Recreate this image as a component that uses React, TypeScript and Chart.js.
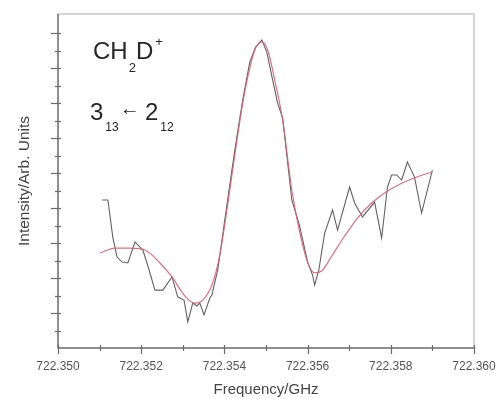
import React, { useEffect, useRef } from "react";
import { Chart, registerables } from "chart.js";

Chart.register(...registerables);

// Measured spectrum (frequency in GHz, intensity in arbitrary units)
const measuredFreqGHz = [
  722.35106, 722.3512, 722.35132, 722.35142, 722.35154, 722.35168, 722.35185, 722.35204,
  722.35219, 722.35233, 722.35252, 722.35274, 722.35288, 722.35303, 722.35312, 722.35324,
  722.35334, 722.35341, 722.35351, 722.35365, 722.3537, 722.35384, 722.35406, 722.35425,
  722.35444, 722.35461, 722.35475, 722.3549, 722.35502, 722.35516, 722.35528, 722.3554,
  722.3555, 722.35562, 722.35581, 722.356, 722.35612, 722.35617, 722.35627, 722.35641,
  722.3566, 722.35672, 722.35701, 722.35713, 722.35732, 722.35761, 722.35778, 722.35792,
  722.35802, 722.35814, 722.35826, 722.3584, 722.35857, 722.35874, 722.359,
];
const measuredIntensity = [
  8.46, 8.46, 6.29, 5.2, 4.91, 4.86, 6.06, 5.6,
  4.46, 3.31, 3.31, 4.06, 2.91, 2.74, 1.49, 2.57,
  2.4, 2.57, 1.89, 2.86, 3.03, 4.46, 8.17, 11.31,
  14.17, 16.34, 17.2, 17.6, 16.91, 15.31, 14.0, 13.14,
  11.03, 8.46, 6.97, 4.91, 4.17, 3.6, 4.46, 6.57,
  7.89, 6.74, 9.2, 8.29, 7.49, 8.34, 6.29, 9.2,
  9.89, 9.89, 9.6, 10.63, 9.77, 7.71, 10.17,
];

// Fitted line profile
const fitFreqGHz = [
  722.35101, 722.35137, 722.35173, 722.35209, 722.35245, 722.35274, 722.35305, 722.35329,
  722.35348, 722.3537, 722.35389, 722.35406, 722.35425, 722.35444, 722.35461, 722.35475,
  722.3549, 722.35504, 722.35521, 722.3554, 722.35562, 722.35581, 722.356, 722.35617,
  722.35634, 722.35658, 722.35689, 722.3572, 722.35754, 722.35792, 722.35833, 722.35869,
  722.359,
];
const fitIntensity = [
  5.43, 5.71, 5.71, 5.6, 4.86, 4.06, 2.97, 2.57,
  2.74, 3.6, 5.31, 7.89, 11.03, 14.0, 16.0, 17.14,
  17.49, 17.03, 15.31, 13.03, 9.03, 6.63, 4.91, 4.29,
  4.4, 5.26, 6.4, 7.43, 8.29, 8.97, 9.49, 9.83,
  10.06,
];

const xMin = 722.35;
const xMax = 722.36;
const xStep = 0.001;
const yMin = 0;
const yMax = 19.09;
const yStep = 1;

const xTitle = "Frequency/GHz";
const yTitle = "Intensity/Arb. Units";

const FONT = "'Liberation Sans', Arial, Helvetica, sans-serif";

function isEvenStep(v: number) {
  return Math.round((v - xMin) / xStep) % 2 === 0;
}

const framePlugin = {
  id: "framePlugin",
  afterDraw(chart: any) {
    const { ctx, chartArea } = chart;
    const { left, right, top, bottom } = chartArea;
    const xs = chart.scales.x;
    const ys = chart.scales.y;
    ctx.save();
    // light frame top/right
    ctx.strokeStyle = "#c8c8c8";
    ctx.lineWidth = 1.5;
    ctx.beginPath();
    ctx.moveTo(left, top);
    ctx.lineTo(right, top);
    ctx.lineTo(right, bottom);
    ctx.stroke();
    // axes
    ctx.strokeStyle = "#6a6a6a";
    ctx.lineWidth = 1.5;
    ctx.beginPath();
    ctx.moveTo(left, top);
    ctx.lineTo(left, bottom);
    ctx.lineTo(right, bottom);
    ctx.stroke();
    // y ticks
    ctx.lineWidth = 1.2;
    ys.ticks.forEach((t: any) => {
      if (t.value < 1 || t.value > 18) return;
      const py = Math.round(ys.getPixelForValue(t.value)) + 0.5;
      const major = Math.round(t.value) % 2 === 0;
      ctx.beginPath();
      ctx.moveTo(left - (major ? 7 : 3), py);
      ctx.lineTo(left + 3, py);
      ctx.stroke();
    });
    // x ticks
    xs.ticks.forEach((t: any) => {
      const px = Math.round(xs.getPixelForValue(t.value)) + 0.5;
      const major = isEvenStep(t.value);
      ctx.beginPath();
      ctx.moveTo(px, bottom - 3);
      ctx.lineTo(px, bottom + (major ? 6 : 3));
      ctx.stroke();
    });

    // annotation text
    ctx.fillStyle = "#262626";
    ctx.textBaseline = "alphabetic";
    ctx.textAlign = "left";
    const put = (s: string, x: number, y: number, size: number) => {
      ctx.font = `${size}px ${FONT}`;
      ctx.fillText(s, x, y);
      return x + ctx.measureText(s).width;
    };
    let x = put("CH", 93, 59, 24);
    x = put("2", x + 1, 72, 13);
    x = put("D", x + 0, 59, 24);
    put("+", x + 2, 46, 13);

    x = put("3", 90, 120, 24);
    x = put("13", x + 2, 131, 12);
    ctx.textBaseline = "middle";
    put("\u2190", x + 1, 109, 20);
    ctx.textBaseline = "alphabetic";
    x = put("2", 145, 120, 24);
    put("12", x + 2, 131, 12);
    ctx.restore();
  },
};

export default function App() {
  const ref = useRef<HTMLCanvasElement | null>(null);
  useEffect(() => {
    if (!ref.current) return;
    const measured = measuredFreqGHz.map((f, i) => ({ x: f, y: measuredIntensity[i] }));
    const fit = fitFreqGHz.map((f, i) => ({ x: f, y: fitIntensity[i] }));
    const chart = new Chart(ref.current, {
      type: "line",
      data: {
        datasets: [
          {
            label: "fit",
            data: fit,
            borderColor: "rgba(214,96,116,0.9)",
            borderWidth: 1.2,
            pointRadius: 0,
            cubicInterpolationMode: "monotone",
            fill: false,
          },
          {
            label: "measured",
            data: measured,
            borderColor: "rgba(70,70,70,0.85)",
            borderWidth: 1.1,
            pointRadius: 0,
            tension: 0,
            fill: false,
          },
        ],
      },
      options: {
        animation: false,
        responsive: false,
        maintainAspectRatio: false,
        layout: { padding: { top: 14, right: 26, left: 0, bottom: 0 } },
        plugins: { legend: { display: false }, tooltip: { enabled: false } },
        scales: {
          x: {
            type: "linear",
            min: xMin,
            max: xMax,
            grid: { display: false },
            border: { display: false },
            ticks: {
              stepSize: xStep,
              autoSkip: false,
              maxRotation: 0,
              padding: 3,
              color: "#555",
              font: { size: 12, family: FONT },
              callback: (v: any) => (isEvenStep(Number(v)) ? Number(v).toFixed(3) : ""),
            },
            title: {
              display: true,
              text: xTitle,
              color: "#444",
              font: { size: 15, family: FONT },
              padding: { top: 0, bottom: 0 },
            },
            afterFit: (s: any) => {
              s.height = 51;
              s.paddingLeft = 0;
              s.paddingRight = 0;
            },
          },
          y: {
            type: "linear",
            min: yMin,
            max: yMax,
            grid: { display: false },
            border: { display: false },
            ticks: { stepSize: yStep, display: false },
            title: {
              display: true,
              text: yTitle,
              color: "#444",
              font: { size: 15.5, family: FONT },
              padding: { top: 15, bottom: 0 },
            },
            afterFit: (s: any) => {
              s.width = 58;
              s.paddingTop = 0;
              s.paddingBottom = 0;
            },
          },
        },
      },
      plugins: [framePlugin],
    });
    return () => chart.destroy();
  }, []);
  return (
    <div style={{ position: "absolute", left: 0, top: 0, width: 500, height: 399, background: "#fff" }}>
      <canvas ref={ref} width={500} height={399} style={{ width: 500, height: 399 }} />
    </div>
  );
}
